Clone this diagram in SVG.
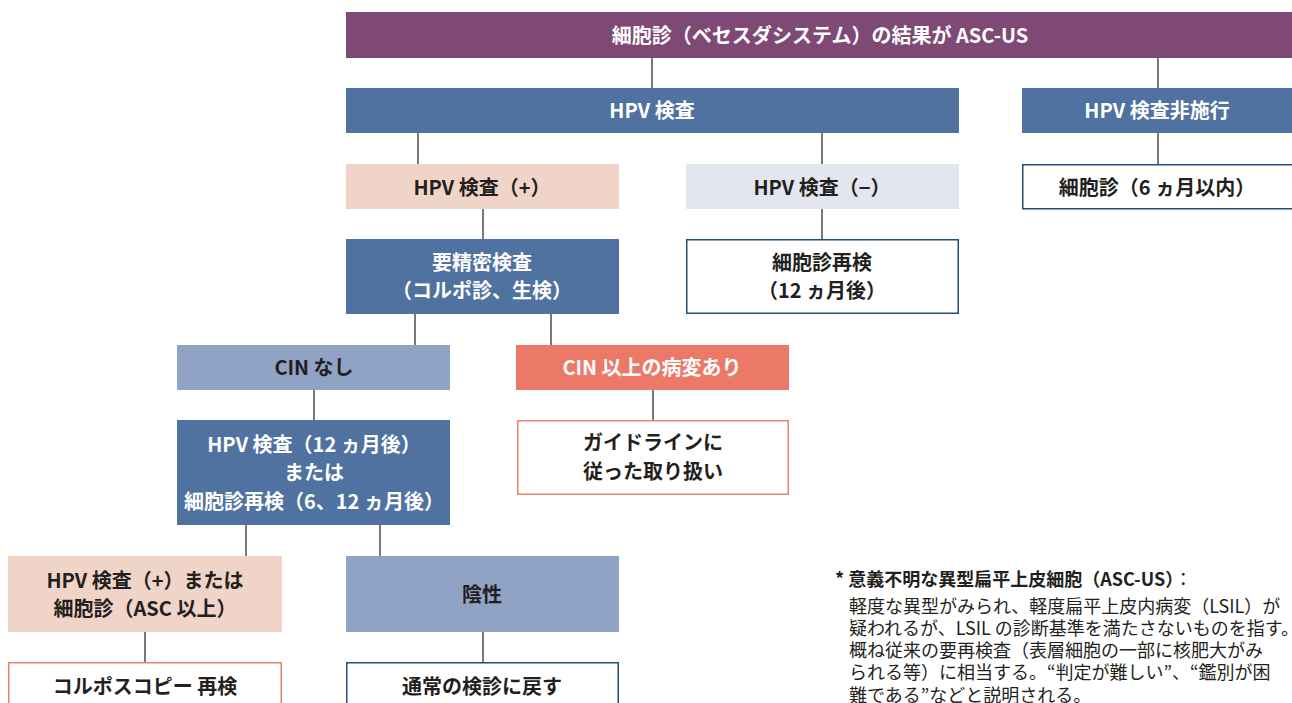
<svg xmlns="http://www.w3.org/2000/svg" width="1292" height="703" viewBox="0 0 1292 703">
<style>
text{font-family:"Noto Sans CJK JP","Noto Sans",sans-serif;font-weight:700;font-size:20px;text-anchor:middle;dominant-baseline:central}
.w{fill:#ffffff}.k{fill:#231f20}
.purple{fill:#7e4a75}.blue{fill:#5072a0}.pink{fill:#f0d4c7}.pale{fill:#e3e6ef}.grey{fill:#91a3c4}.salmon{fill:#ec7867}
.ob{fill:#ffffff;stroke:#1f4e7a;stroke-width:1.5}.os{fill:#ffffff;stroke:#e8836f;stroke-width:1.5}
.c line{stroke:#231f20;stroke-width:1.2}
.note{font-weight:400;font-size:18px;text-anchor:start;fill:#231f20}
</style>
<rect width="1292" height="703" fill="#ffffff"/>
<g class="c">
<line x1="652" y1="58" x2="652" y2="88"/>
<line x1="1158" y1="58" x2="1158" y2="88"/>
<line x1="418" y1="133" x2="418" y2="164"/>
<line x1="822" y1="133" x2="822" y2="164"/>
<line x1="1158" y1="133" x2="1158" y2="164"/>
<line x1="483" y1="209" x2="483" y2="239"/>
<line x1="822" y1="209" x2="822" y2="239"/>
<line x1="415" y1="314" x2="415" y2="345"/>
<line x1="551" y1="314" x2="551" y2="345"/>
<line x1="314" y1="390" x2="314" y2="420"/>
<line x1="653" y1="390" x2="653" y2="420"/>
<line x1="246" y1="525" x2="246" y2="556"/>
<line x1="380" y1="525" x2="380" y2="556"/>
<line x1="145" y1="632" x2="145" y2="662"/>
<line x1="483" y1="632" x2="483" y2="662"/>
</g>
<g id="n-top"><rect class="purple" x="346" y="12" width="960" height="46"/><text class="w" x="820" y="34">細胞診（ベセスダシステム）の結果が ASC-US</text></g>
<g id="n-hpv"><rect class="blue" x="346" y="88" width="613" height="45"/><text class="w" x="652" y="109">HPV 検査</text></g>
<g id="n-nohpv"><rect class="blue" x="1022" y="88" width="280" height="45"/><text class="w" x="1157" y="109">HPV 検査非施行</text></g>
<g id="n-pos"><rect class="pink" x="346" y="164" width="273" height="45"/><text class="k" x="482" y="186">HPV 検査（+）</text></g>
<g id="n-neg"><rect class="pale" x="686" y="164" width="273" height="45"/><text class="k" x="822" y="186">HPV 検査（−）</text></g>
<g id="n-cyto6"><rect class="ob" x="1022.75" y="164.75" width="280" height="44"/><text class="k" x="1157" y="186">細胞診（6 ヵ月以内）</text></g>
<g id="n-detail"><rect class="blue" x="346" y="239" width="273" height="75"/><text class="w" x="482" y="261">要精密検査</text><text class="w" x="482" y="289">（コルポ診、生検）</text></g>
<g id="n-recheck"><rect class="ob" x="686.75" y="239.75" width="271.5" height="73.5"/><text class="k" x="822" y="261">細胞診再検</text><text class="k" x="822" y="289">（12 ヵ月後）</text></g>
<g id="n-cinno"><rect class="grey" x="177" y="345" width="273" height="45"/><text class="k" x="314" y="366">CIN なし</text></g>
<g id="n-cinyes"><rect class="salmon" x="516" y="345" width="273" height="45"/><text class="w" x="652" y="366">CIN 以上の病変あり</text></g>
<g id="n-follow"><rect class="blue" x="177" y="420" width="273" height="105"/><text class="w" x="314" y="443">HPV 検査（12 ヵ月後）</text><text class="w" x="314" y="471">または</text><text class="w" x="314" y="500">細胞診再検（6、12 ヵ月後）</text></g>
<g id="n-guide"><rect class="os" x="517.75" y="420.75" width="270.5" height="73.5"/><text class="k" x="653" y="441">ガイドラインに</text><text class="k" x="653" y="470">従った取り扱い</text></g>
<g id="n-posasc"><rect class="pink" x="8" y="556" width="274" height="76"/><text class="k" x="145" y="579">HPV 検査（+）または</text><text class="k" x="145" y="607">細胞診（ASC 以上）</text></g>
<g id="n-negative"><rect class="grey" x="346" y="556" width="273" height="76"/><text class="k" x="482" y="593">陰性</text></g>
<g id="n-colpo"><rect class="os" x="8.75" y="662.75" width="272.5" height="60"/><text class="k" x="145" y="685">コルポスコピー 再検</text></g>
<g id="n-normal"><rect class="ob" x="346.75" y="662.75" width="271.5" height="60"/><text class="k" x="482" y="685">通常の検診に戻す</text></g>
<g id="note">
<text class="note" x="835" y="578" style="font-weight:700">* 意義不明な異型扁平上皮細胞（ASC-US）<tspan style="font-weight:400">：</tspan></text>
<text class="note" x="849" y="605">軽度な異型がみられ、軽度扁平上皮内病変（LSIL）が</text>
<text class="note" x="849" y="627">疑われるが、LSIL の診断基準を満たさないものを指す。</text>
<text class="note" x="849" y="649">概ね従来の要再検査（表層細胞の一部に核肥大がみ</text>
<text class="note" x="849" y="671">られる等）に相当する。“判定が難しい”、“鑑別が困</text>
<text class="note" x="849" y="694">難である”などと説明される。</text>
</g>
</svg>
